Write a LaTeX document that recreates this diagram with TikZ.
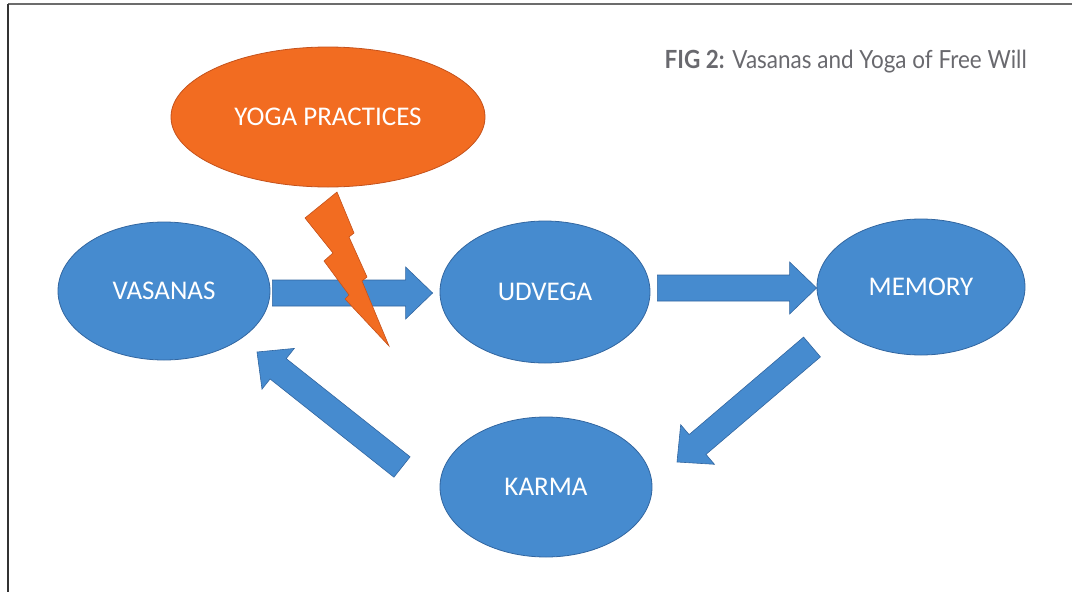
\documentclass[tikz,border=0pt]{standalone}
\usepackage{fontspec}
\usepackage{tikz}
\usetikzlibrary{shapes.geometric, calc}

\newfontfamily\labelfont{Carlito}
\newfontfamily\capfont[FakeStretch=0.9]{Lato}

\definecolor{bluefill}{RGB}{70,139,207}
\definecolor{bluedge}{RGB}{50,102,160}
\definecolor{orangefill}{RGB}{242,108,33}
\definecolor{orangedge}{RGB}{196,82,28}
\definecolor{capgray}{RGB}{105,105,110}

\tikzset{
    bubble/.style={ellipse, draw=bluedge, fill=bluefill, line width=0.8pt,
        inner sep=0pt, text=white, font=\labelfont\fontsize{27}{30}\selectfont},
    yogabubble/.style={bubble, draw=orangedge, fill=orangefill},
    blockarrow/.style={draw=bluedge, fill=bluefill, line width=0.6pt, line join=miter},
    bolt/.style={draw=orangedge, fill=orangefill, line width=0.6pt, line join=miter}
}

% wide arrow from #1 (tail) to #2 (tip)
\newcommand\widearrow[2]{%
    \coordinate (hb) at ($(#2)!27pt!(#1)$);
    \draw[blockarrow] ($(#1)!13pt!90:(#2)$) -- ($(hb)!13pt!-90:(#1)$)
        -- ($(hb)!26pt!-90:(#1)$) -- (#2) -- ($(hb)!26pt!90:(#1)$)
        -- ($(hb)!13pt!90:(#1)$) -- ($(#1)!13pt!-90:(#2)$) -- cycle;
}

\begin{document}
\begin{tikzpicture}[x=1pt, y=-1pt]
    \useasboundingbox (0,0) rectangle (1072,592);

    % frame
    \draw[line width=1.6pt, gray!85!black] (8,4) -- (1072,4);
    \draw[line width=1.6pt, black!80] (8,4) -- (8,592);

    % caption
    \node[anchor=base east, inner sep=0pt, text=capgray, font=\capfont\fontsize{25}{28}\selectfont]
        (caption) at (1027,68) {\textbf{FIG 2:} Vasanas and Yoga of Free Will};

    % circles
    \node[bubble, minimum width=212pt, minimum height=138pt] (vasanas) at (164,291) {VASANAS};
    \node[bubble, minimum width=210pt, minimum height=142pt] (udvega) at (545,292) {UDVEGA};
    \node[bubble, minimum width=208pt, minimum height=136pt] (memory) at (921,287) {MEMORY};
    \node[bubble, minimum width=212pt, minimum height=140pt] (karma) at (546,487) {KARMA};
    \node[yogabubble, minimum width=314pt, minimum height=140pt] (yoga) at (328,117) {YOGA PRACTICES};

    % arrow ends
    \coordinate (vas-out) at ($(vasanas.east)+(2,2)$);
    \coordinate (udv-in) at ($(udvega.west)+(-7,1)$);
    \coordinate (udv-out) at ($(udvega.east)+(7,-4)$);
    \coordinate (mem-in) at ($(memory.west)+(0,1)$);
    \coordinate (mem-out) at (812,347);
    \coordinate (kar-in) at (677,462);
    \coordinate (kar-out) at (402,467);
    \coordinate (vas-in) at (257,352);

    \widearrow{vas-out}{udv-in}
    \widearrow{udv-out}{mem-in}
    \widearrow{mem-out}{kar-in}
    \widearrow{kar-out}{vas-in}

    % lightning
    \draw[bolt] (337,192) -- (354,233) -- (349,237) -- (367,277) -- (362,281)
        -- (389,346) -- (345,299) -- (349,295) -- (324,261) -- (333,253)
        -- (305,218) -- cycle;
\end{tikzpicture}
\end{document}
